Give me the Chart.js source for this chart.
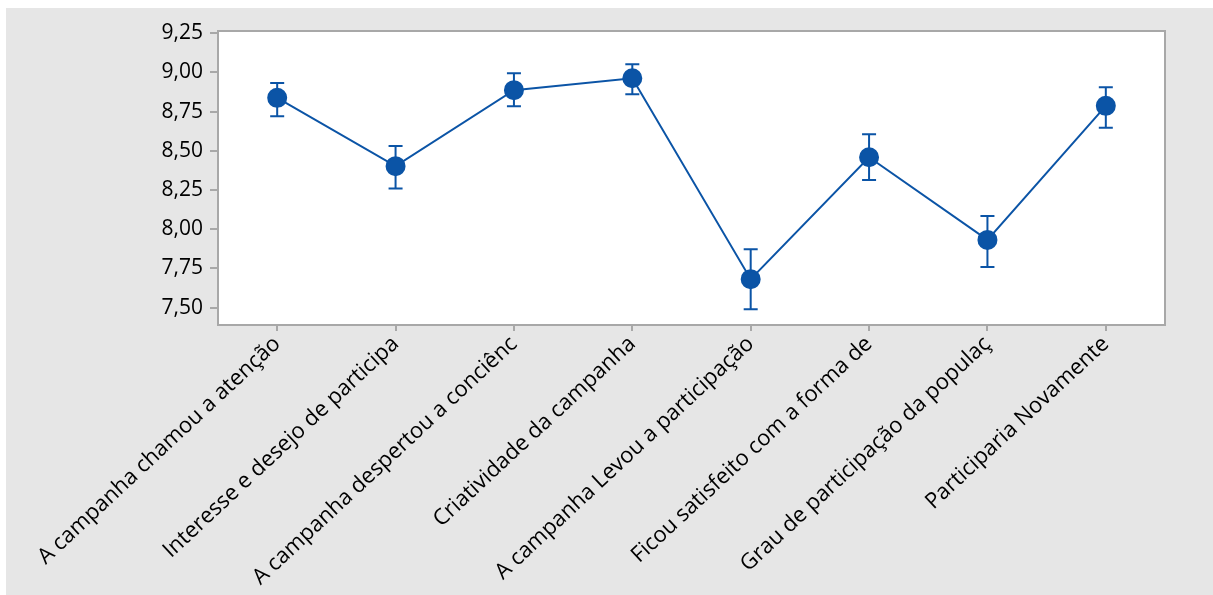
<!DOCTYPE html>
<html lang="pt">
<head>
    <meta charset="UTF-8">
    <title>Médias por item</title>
    <script src="https://cdn.jsdelivr.net/npm/chart.js"></script>
    <style>
        body {
            margin: 0;
            background-color: #ffffff;
        }
        .panel {
            position: absolute;
            left: 6px;
            top: 8px;
            width: 1207px;
            height: 587px;
            background-color: #e6e6e6;
        }
    </style>
</head>
<body>
    <div class="panel">
        <canvas id="meansChart"></canvas>
    </div>

    <script>
        const categories = [
            'A campanha chamou a atenção',
            'Interesse e desejo de participa',
            'A campanha despertou a conciênc',
            'Criatividade da campanha',
            'A campanha Levou a participação',
            'Ficou satisfeito com a forma de',
            'Grau de participação da populaç',
            'Participaria Novamente'
        ];
        const means = [8.837, 8.402, 8.886, 8.962, 7.682, 8.459, 7.932, 8.786];
        const upper = [8.932, 8.530, 8.994, 9.051, 7.873, 8.606, 8.084, 8.905];
        const lower = [8.720, 8.260, 8.784, 8.860, 7.491, 8.313, 7.760, 8.646];
        const yTicks = [7.50, 7.75, 8.00, 8.25, 8.50, 8.75, 9.00, 9.25];

        const blue = '#0b54a6';
        const frameGray = '#a8a8a8';

        // white plot area with a gray frame
        const plotFrame = {
            id: 'plotFrame',
            beforeDraw(chart) {
                const { ctx, chartArea: a } = chart;
                ctx.save();
                ctx.fillStyle = '#ffffff';
                ctx.fillRect(a.left, a.top, a.right - a.left, a.bottom - a.top);
                ctx.restore();
            },
            afterDraw(chart) {
                const { ctx, chartArea: a } = chart;
                ctx.save();
                ctx.strokeStyle = frameGray;
                ctx.lineWidth = 2;
                ctx.strokeRect(a.left, a.top, a.right - a.left, a.bottom - a.top);
                ctx.restore();
            }
        };

        // interval bars drawn under the mean markers
        const errorBars = {
            id: 'errorBars',
            beforeDatasetsDraw(chart) {
                const { ctx, scales: { x, y } } = chart;
                ctx.save();
                ctx.strokeStyle = blue;
                ctx.lineWidth = 2;
                categories.forEach((c, i) => {
                    const px = x.getPixelForValue(i);
                    const top = y.getPixelForValue(upper[i]);
                    const bottom = y.getPixelForValue(lower[i]);
                    ctx.beginPath();
                    ctx.moveTo(px, top);
                    ctx.lineTo(px, bottom);
                    ctx.moveTo(px - 7, top);
                    ctx.lineTo(px + 7, top);
                    ctx.moveTo(px - 7, bottom);
                    ctx.lineTo(px + 7, bottom);
                    ctx.stroke();
                });
                ctx.restore();
            }
        };

        new Chart(document.getElementById('meansChart'), {
            type: 'line',
            data: {
                labels: categories,
                datasets: [{
                    data: means,
                    borderColor: blue,
                    borderWidth: 2,
                    backgroundColor: blue,
                    pointBackgroundColor: blue,
                    pointBorderColor: blue,
                    pointRadius: 9,
                    tension: 0
                }]
            },
            options: {
                responsive: true,
                maintainAspectRatio: false,
                animation: false,
                layout: {
                    padding: { left: 0, top: 23, right: 48, bottom: 0 }
                },
                plugins: {
                    legend: { display: false },
                    tooltip: { enabled: false }
                },
                scales: {
                    x: {
                        offset: true,
                        grid: {
                            display: true,
                            drawOnChartArea: false,
                            offset: false,
                            tickLength: 6,
                            color: frameGray,
                            lineWidth: 2
                        },
                        border: { color: frameGray, width: 2 },
                        ticks: {
                            autoSkip: false,
                            minRotation: 43,
                            maxRotation: 43,
                            padding: 0,
                            color: '#000000',
                            font: { family: '"Open Sans"', size: 22 }
                        },
                        afterFit(scale) { scale.height = 270; }
                    },
                    y: {
                        min: 7.39,
                        max: 9.263,
                        grid: {
                            display: true,
                            drawOnChartArea: false,
                            tickLength: 8,
                            color: frameGray,
                            lineWidth: 2
                        },
                        border: { color: frameGray, width: 2 },
                        afterBuildTicks(scale) {
                            scale.ticks = yTicks.map(v => ({ value: v }));
                        },
                        ticks: {
                            padding: 7,
                            color: '#000000',
                            font: { family: '"Open Sans"', size: 21 },
                            callback: v => v.toFixed(2).replace('.', ',')
                        },
                        afterFit(scale) { scale.width = 212; }
                    }
                }
            },
            plugins: [plotFrame, errorBars]
        });
    </script>
</body>
</html>
